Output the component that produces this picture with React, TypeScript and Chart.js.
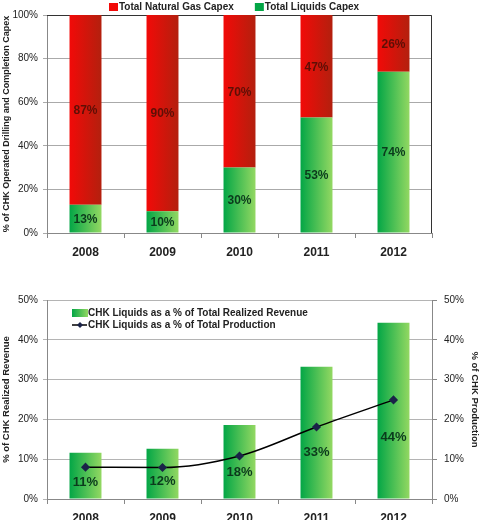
import React, { useEffect, useRef } from "react";
import { Chart, registerables } from "chart.js";

Chart.register(...registerables);

const YEARS = ["2008", "2009", "2010", "2011", "2012"];
const LIQUIDS_CAPEX = [13, 10, 30, 53, 74];
const GAS_CAPEX = [87, 90, 70, 47, 26];
const TOP_Y_TICKS = [0, 20, 40, 60, 80, 100];

const LIQUIDS_REVENUE = [11.6, 12.6, 18.6, 33.2, 44.3];
const LIQUIDS_PRODUCTION = [8.0, 7.9, 10.8, 18.1, 24.9];

const TOP_LEGEND = ["Total Natural Gas Capex", "Total Liquids Capex"];
const BOTTOM_LEGEND = [
  "CHK Liquids as a % of Total Realized Revenue",
  "CHK Liquids as a % of Total Production",
];
const TOP_Y_TITLE = "% of CHK Operated Drilling and Completion Capex";
const BOTTOM_Y_TITLE = "% of CHK Realized Revenue";
const BOTTOM_Y1_TITLE = "% of CHK Production";

const FONT = "'Liberation Sans', Arial, sans-serif";
const BAR_PCT = 0.415;
const GREEN_DARK = "#03a646";
const GREEN_LIGHT = "#93d862";
const RED_DARK = "#f20a08";
const RED_LIGHT = "#b3200e";

function barGradient(left: string, right: string) {
  return (ctx: any) => {
    const chart = ctx.chart;
    const x = chart.scales && chart.scales.x;
    if (!x || ctx.dataIndex == null || !chart.chartArea) return left;
    const cw = (x.right - x.left) / YEARS.length;
    const bw = cw * BAR_PCT;
    const cx = x.getPixelForValue(ctx.dataIndex);
    const g = chart.ctx.createLinearGradient(cx - bw / 2, 0, cx + bw / 2, 0);
    g.addColorStop(0, left);
    g.addColorStop(1, right);
    return g;
  };
}

const TopChart: React.FC = () => {
  const ref = useRef<HTMLCanvasElement | null>(null);
  useEffect(() => {
    if (!ref.current) return;
    const labelsPlugin = {
      id: "topLabels",
      beforeDatasetsDraw(chart: any) {
        const { ctx, chartArea } = chart;
        ctx.save();
        ctx.strokeStyle = "#333";
        ctx.lineWidth = 1;
        ctx.beginPath();
        ctx.moveTo(chartArea.left, chartArea.top + 0.5);
        ctx.lineTo(chartArea.right - 0.5, chartArea.top + 0.5);
        ctx.lineTo(chartArea.right - 0.5, chartArea.bottom);
        ctx.stroke();
        ctx.restore();
      },
      afterDatasetsDraw(chart: any) {
        const { ctx } = chart;
        ctx.save();
        ctx.font = `bold 12px ${FONT}`;
        ctx.textAlign = "center";
        ctx.textBaseline = "middle";
        chart.data.datasets.forEach((ds: any, di: number) => {
          const meta = chart.getDatasetMeta(di);
          meta.data.forEach((el: any, i: number) => {
            ctx.fillStyle = di === 0 ? "#0b3a1c" : "#5e0f06";
            ctx.fillText(`${ds.data[i]}%`, el.x, (el.y + el.base) / 2 + 1);
          });
        });
        ctx.restore();
      },
      afterDraw(chart: any) {
        const { ctx } = chart;
        ctx.save();
        ctx.font = `bold 10px ${FONT}`;
        ctx.textBaseline = "middle";
        let x = chart.chartArea.left + 62;
        const y = 7;
        const colors = [RED_DARK, GREEN_DARK];
        TOP_LEGEND.forEach((t, i) => {
          ctx.fillStyle = colors[i];
          ctx.fillRect(x, y - 4, 9, 8);
          ctx.fillStyle = "#222";
          ctx.fillText(t, x + 10, y + 0.5);
          x += 10 + ctx.measureText(t).width + 21;
        });
        ctx.restore();
      },
    };
    const chart = new Chart(ref.current, {
      type: "bar",
      data: {
        labels: YEARS,
        datasets: [
          {
            label: TOP_LEGEND[1],
            data: LIQUIDS_CAPEX,
            backgroundColor: barGradient(GREEN_DARK, GREEN_LIGHT),
            barPercentage: BAR_PCT,
            categoryPercentage: 1,
          },
          {
            label: TOP_LEGEND[0],
            data: GAS_CAPEX,
            backgroundColor: barGradient(RED_DARK, RED_LIGHT),
            barPercentage: BAR_PCT,
            categoryPercentage: 1,
          },
        ],
      },
      options: {
        animation: false,
        responsive: false,
        devicePixelRatio: 1,
        layout: { padding: { top: 15, left: 0, right: 49, bottom: 0 } },
        plugins: { legend: { display: false }, tooltip: { enabled: false } },
        scales: {
          x: {
            stacked: true,
            grid: { drawOnChartArea: false, drawTicks: true, tickLength: 5, color: "#888" },
            border: { color: "#888" },
            ticks: { font: { family: FONT, size: 12, weight: "bold" }, color: "#222", padding: 7 },
            afterFit: (s: any) => {
              s.height = 27;
            },
          },
          y: {
            stacked: true,
            min: 0,
            max: 100,
            afterBuildTicks: (s: any) => {
              s.ticks = TOP_Y_TICKS.map((v) => ({ value: v }));
            },
            grid: { color: "#aaa", tickLength: 4 },
            border: { color: "#888" },
            ticks: {
              font: { family: FONT, size: 10 },
              color: "#222",
              padding: 5,
              callback: (v: any) => `${v}%`,
            },
            title: {
              display: true,
              text: TOP_Y_TITLE,
              font: { family: FONT, size: 9, weight: "bold" },
              color: "#222",
              padding: { top: 1, bottom: 0 },
            },
            afterFit: (s: any) => {
              s.width = 47;
            },
          },
        },
      },
      plugins: [labelsPlugin],
    } as any);
    return () => chart.destroy();
  }, []);
  return <canvas ref={ref} width={481} height={260} style={{ display: "block" }} />;
};

const BottomChart: React.FC = () => {
  const ref = useRef<HTMLCanvasElement | null>(null);
  useEffect(() => {
    if (!ref.current) return;
    const plugin = {
      id: "bottomLabels",
      afterDatasetsDraw(chart: any) {
        const { ctx } = chart;
        ctx.save();
        ctx.font = `bold 13px ${FONT}`;
        ctx.textAlign = "center";
        ctx.textBaseline = "middle";
        ctx.fillStyle = "#0b3a1c";
        const meta = chart.getDatasetMeta(0);
        meta.data.forEach((el: any, i: number) => {
          const h = el.base - el.y;
          ctx.fillText(`${Math.floor(LIQUIDS_REVENUE[i])}%`, el.x, el.base - h * 0.35);
        });
        ctx.restore();
      },
      afterDraw(chart: any) {
        const { ctx, chartArea } = chart;
        ctx.save();
        ctx.font = `bold 10px ${FONT}`;
        ctx.textBaseline = "middle";
        const x = chartArea.left + 25;
        const y1 = chartArea.top + 13;
        const y2 = chartArea.top + 25;
        const g = ctx.createLinearGradient(x, 0, x + 16, 0);
        g.addColorStop(0, GREEN_DARK);
        g.addColorStop(1, GREEN_LIGHT);
        ctx.fillStyle = g;
        ctx.fillRect(x, y1 - 4, 16, 8);
        ctx.fillStyle = "#222";
        ctx.fillText(BOTTOM_LEGEND[0], x + 16, y1 + 0.5);
        ctx.strokeStyle = "#000";
        ctx.lineWidth = 1.5;
        ctx.beginPath();
        ctx.moveTo(x, y2);
        ctx.lineTo(x + 15, y2);
        ctx.stroke();
        ctx.fillStyle = "#1a2348";
        ctx.beginPath();
        ctx.moveTo(x + 8, y2 - 3);
        ctx.lineTo(x + 11, y2);
        ctx.lineTo(x + 8, y2 + 3);
        ctx.lineTo(x + 5, y2);
        ctx.closePath();
        ctx.fill();
        ctx.fillStyle = "#222";
        ctx.fillText(BOTTOM_LEGEND[1], x + 16, y2 + 0.5);
        ctx.restore();
      },
    };
    const tickFont = { family: FONT, size: 10 };
    const chart = new Chart(ref.current, {
      type: "bar",
      data: {
        labels: YEARS,
        datasets: [
          {
            type: "bar",
            label: BOTTOM_LEGEND[0],
            data: LIQUIDS_REVENUE,
            backgroundColor: barGradient(GREEN_DARK, GREEN_LIGHT),
            barPercentage: BAR_PCT,
            categoryPercentage: 1,
            yAxisID: "y",
            order: 1,
          },
          {
            type: "line",
            label: BOTTOM_LEGEND[1],
            data: LIQUIDS_PRODUCTION,
            borderColor: "#000",
            borderWidth: 1.5,
            pointStyle: "rectRot",
            pointRadius: 3.5,
            pointBackgroundColor: "#1a2348",
            pointBorderColor: "#1a2348",
            cubicInterpolationMode: "monotone",
            yAxisID: "y1",
            order: 0,
          },
        ],
      },
      options: {
        animation: false,
        responsive: false,
        devicePixelRatio: 1,
        layout: { padding: { top: 40, left: 0, right: 0, bottom: 0 } },
        plugins: { legend: { display: false }, tooltip: { enabled: false } },
        scales: {
          x: {
            grid: { drawOnChartArea: false, drawTicks: true, tickLength: 5, color: "#888" },
            border: { color: "#888" },
            ticks: { font: { family: FONT, size: 12, weight: "bold" }, color: "#222", padding: 7 },
            afterFit: (s: any) => {
              s.height = 21;
            },
          },
          y: {
            position: "left",
            min: 0,
            max: 50,
            ticks: {
              stepSize: 10,
              font: tickFont,
              color: "#222",
              padding: 5,
              callback: (v: any) => `${v}%`,
            },
            grid: { color: "#b4b4b4", tickLength: 4 },
            border: { color: "#888" },
            title: {
              display: true,
              text: BOTTOM_Y_TITLE,
              font: { family: FONT, size: 9.5, weight: "bold" },
              color: "#222",
              padding: { top: 1, bottom: 0 },
            },
            afterFit: (s: any) => {
              s.width = 47;
            },
          },
          y1: {
            position: "right",
            min: 0,
            max: 50,
            ticks: {
              stepSize: 10,
              font: tickFont,
              color: "#222",
              padding: 7,
              callback: (v: any) => `${v}%`,
            },
            grid: { drawOnChartArea: false, tickLength: 5, color: "#888" },
            border: { color: "#888" },
            title: {
              display: true,
              text: BOTTOM_Y1_TITLE,
              font: { family: FONT, size: 9.5, weight: "bold" },
              color: "#222",
              padding: { top: 1, bottom: 0 },
            },
            afterFit: (s: any) => {
              s.width = 49;
            },
          },
        },
      },
      plugins: [plugin],
    } as any);
    return () => chart.destroy();
  }, []);
  return <canvas ref={ref} width={481} height={260} style={{ display: "block" }} />;
};

export default function App() {
  return (
    <div
      style={{
        position: "absolute",
        top: 0,
        left: 0,
        width: 481,
        height: 520,
        background: "#fff",
        overflow: "hidden",
      }}
    >
      <TopChart />
      <BottomChart />
    </div>
  );
}
